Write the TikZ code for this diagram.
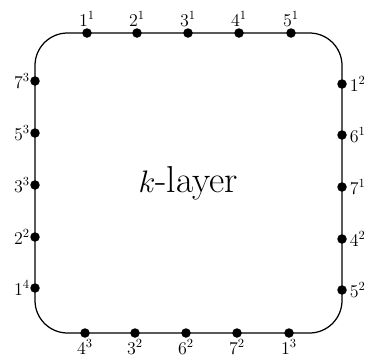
\documentclass[tikz,border=0pt]{standalone}
\usepackage{amsmath}
\begin{document}
\begin{tikzpicture}[
      x=0.8pt, y=-0.8pt,
      dot/.style={circle, fill, inner sep=0pt, minimum size=7.6pt},
      lab/.style={font=\Large, inner sep=1pt}]
    \useasboundingbox (0,0) rectangle (372,362);
    \node[draw, line width=1pt, rounded corners=26pt, minimum width=245.6pt, minimum height=240pt,
          font=\fontsize{30}{36}\selectfont] (layer) at (188.5,183) {$k$-layer};
    % top side
    \foreach \x/\n/\s [count=\i] in {87/1/1, 137/2/1, 188/3/1, 239/4/1, 291/5/1}
      \node[dot, label={[lab]above:$\n^\s$}] (top\i) at (\x,33) {};
    % right side
    \foreach \y/\n/\s [count=\i] in {84/1/2, 135/6/1, 187/7/1, 239/4/2, 290/5/2}
      \node[dot, label={[lab,inner sep=2pt]right:$\n^\s$}] (rgt\i) at (342,\y) {};
    % bottom side
    \foreach \x/\n/\s [count=\i] in {85/4/3, 135/3/2, 186/6/2, 237/7/2, 289/1/3}
      \node[dot, label={[lab]below:$\n^\s$}] (bot\i) at (\x,333) {};
    % left side
    \foreach \y/\n/\s [count=\i] in {81/7/3, 133/5/3, 185/3/3, 237/2/2, 288/1/4}
      \node[dot, label={[lab,inner sep=0pt]left:$\n^\s$}] (lft\i) at (35,\y) {};
  \end{tikzpicture}
\end{document}
